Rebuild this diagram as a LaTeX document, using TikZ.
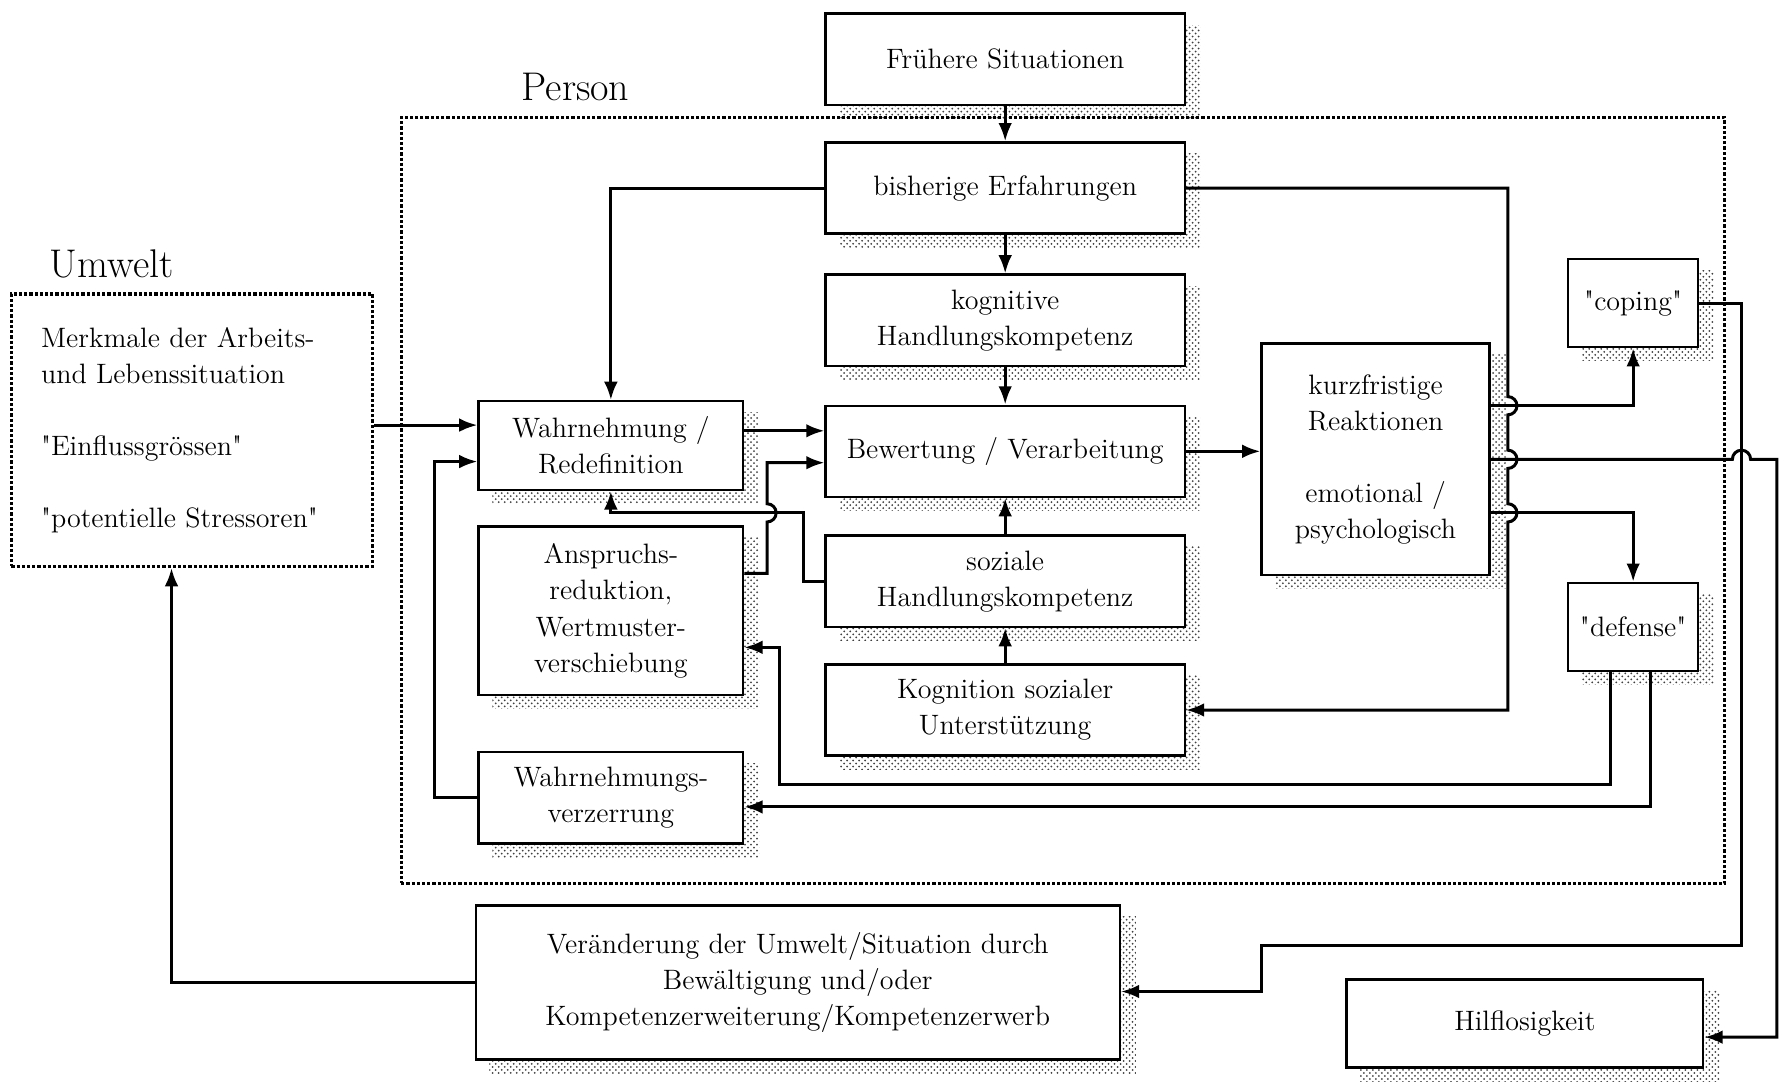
\documentclass[tikz,border=0pt]{standalone}
\usepackage{fontspec}
\usetikzlibrary{arrows.meta,patterns,backgrounds}

\tikzset{
    box/.style={draw, line width=1.2pt, fill=white, align=center, inner sep=2pt},
    midbox/.style={box, minimum width=63mm, minimum height=16mm},
    sidebox/.style={box, minimum width=46.4mm},
    smallbox/.style={box, minimum width=22.8mm, minimum height=15.4mm},
    dotframe/.style={draw, densely dotted, line width=1.6pt},
    conn/.style={line width=1.5pt, -{Latex[length=3.2mm,width=2.4mm]}},
    heading/.style={font=\fontsize{20}{24}\selectfont},
}

\begin{document}
\begin{tikzpicture}[x=0.2mm, y=-0.2mm, font=\fontsize{14}{18}\selectfont]
    \useasboundingbox (0,0) rectangle (1568,952);

    % Define the positions of the boxes
    \coordinate (frueherPos) at (882,52);
    \coordinate (bisherPos) at (882,165);
    \coordinate (kognPos) at (882,281);
    \coordinate (bewertPos) at (882,396);
    \coordinate (sozialPos) at (882,510);
    \coordinate (kognsozPos) at (882,623);
    \coordinate (wahrnPos) at (536,391);
    \coordinate (ansprPos) at (536,536);
    \coordinate (verzerrPos) at (536,700);
    \coordinate (kurzPos) at (1207,403);
    \coordinate (copingPos) at (1433,266);
    \coordinate (defensePos) at (1433,550);
    \coordinate (veraendPos) at (700,862);
    \coordinate (hilfPos) at (1338,898);

    % Draw the frames and their titles
    \node[dotframe, minimum width=232.2mm, minimum height=134.4mm] (person) at (932.5,439) {};
    \node[heading] (persontitle) at (505,76) {Person};
    \node[dotframe, minimum width=63.4mm, minimum height=47.8mm, text width=53mm, align=left, inner sep=0pt] (umwelt) at (168.5,377.5)
        {Merkmale der Arbeits-\\und Lebenssituation\\[18pt]\textquotedbl Einflussgrössen\textquotedbl\\[18pt]\textquotedbl potentielle Stressoren\textquotedbl};
    \node[heading] (umwelttitle) at (98,232) {Umwelt};

    % Draw the boxes
    \node[midbox] (frueher) at (frueherPos) {Frühere Situationen};
    \node[midbox] (bisher) at (bisherPos) {bisherige Erfahrungen};
    \node[midbox] (kogn) at (kognPos) {kognitive\\Handlungskompetenz};
    \node[midbox] (bewert) at (bewertPos) {Bewertung / Verarbeitung};
    \node[midbox] (sozial) at (sozialPos) {soziale\\Handlungskompetenz};
    \node[midbox] (kognsoz) at (kognsozPos) {Kognition sozialer\\Unterstützung};
    \node[sidebox, minimum height=15.6mm] (wahrn) at (wahrnPos) {Wahrnehmung /\\Redefinition};
    \node[sidebox, minimum height=29.6mm] (anspr) at (ansprPos) {Anspruchs-\\reduktion,\\Wertmuster-\\verschiebung};
    \node[sidebox, minimum height=16mm] (verzerr) at (verzerrPos) {Wahrnehmungs-\\verzerrung};
    \node[box, minimum width=40mm, minimum height=40.6mm] (kurz) at (kurzPos) {kurzfristige\\Reaktionen\\[18pt]emotional /\\psychologisch};
    \node[smallbox] (coping) at (copingPos) {\textquotedbl coping\textquotedbl};
    \node[smallbox] (defense) at (defensePos) {\textquotedbl defense\textquotedbl};
    \node[box, minimum width=113mm, minimum height=27mm] (veraend) at (veraendPos)
        {Veränderung der Umwelt/Situation durch\\Bewältigung und/oder\\Kompetenzerweiterung/Kompetenzerwerb};
    \node[box, minimum width=62.6mm, minimum height=15.4mm] (hilf) at (hilfPos) {Hilflosigkeit};

    % Stippled shadows behind the boxes
    \begin{scope}[on background layer]
        \foreach \b in {frueher,bisher,kogn,bewert,sozial,kognsoz,wahrn,anspr,verzerr,kurz,coping,defense,veraend,hilf}
            \fill[pattern=crosshatch dots, pattern color=black!75]
                ([xshift=2.6mm,yshift=-2.2mm]\b.south west) rectangle ([xshift=2.6mm,yshift=-2.2mm]\b.north east);
    \end{scope}

    % Points where the connectors meet the boxes
    \coordinate (w1) at ([yshift=3.6mm]wahrn.west);
    \coordinate (w2) at ([yshift=-2.8mm]wahrn.west);
    \coordinate (b1) at ([yshift=3.6mm]bewert.west);
    \coordinate (b2) at ([yshift=-2mm]bewert.west);
    \coordinate (a1) at ([yshift=6.6mm]anspr.east);
    \coordinate (a2) at ([yshift=-6.4mm]anspr.east);
    \coordinate (z1) at ([yshift=-1.6mm]verzerr.east);
    \coordinate (k1) at ([yshift=9.4mm]kurz.east);
    \coordinate (k2) at (kurz.east);
    \coordinate (k3) at ([yshift=-9.4mm]kurz.east);
    \coordinate (h1) at ([yshift=-2.4mm]hilf.east);
    \coordinate (v1) at ([yshift=-1.6mm]veraend.east);

    % Draw the middle column
    \draw[conn] (frueher) -- (bisher);
    \draw[conn] (bisher) -- (kogn);
    \draw[conn] (kogn) -- (bewert);
    \draw[conn] (sozial) -- (bewert);
    \draw[conn] (kognsoz) -- (sozial);

    % Draw the left side
    \draw[conn] (bisher.west) -| (wahrn.north);
    \draw[conn] (umwelt.east |- w1) -- (w1);
    \draw[conn] (verzerr.west) -- ++(-38,0) |- (w2);
    \draw[conn] (wahrn.east |- b1) -- (b1);
    \draw[conn] (a1) -- ++(20,0) -- ++(0,-45) arc[start angle=90, end angle=-90, radius=8] |- (b2);
    \draw[conn] (sozial.west) -| ++(-18,-60) -| (wahrn.south);

    % Draw the right side
    \draw[conn] (bewert.east) -- (bewert.east -| kurz.west);
    \draw[conn] (bisher.east) -| ([xshift=3mm,yshift=1.6mm]k1)
        arc[start angle=-90, end angle=90, radius=8] -- ([xshift=3mm,yshift=1.6mm]k2)
        arc[start angle=-90, end angle=90, radius=8] -- ([xshift=3mm,yshift=1.6mm]k3)
        arc[start angle=-90, end angle=90, radius=8] |- (kognsoz.east);
    \draw[conn] (k1) -| (coping.south);
    \draw[conn] (k3) -| (defense.north);
    \draw[conn] (k2) -- ++(212,0) arc[start angle=180, end angle=360, radius=8] -- ++(23,0) |- (h1);
    \draw[conn] (coping.east) -- ++(37,0) |- ([xshift=24.6mm,yshift=8mm]v1) |- (v1);
    \draw[conn] ([xshift=-4mm]defense.south) |- ([xshift=6.2mm,yshift=-24mm]a2) |- (a2);
    \draw[conn] ([xshift=3mm]defense.south) |- (z1);
    \draw[conn] (veraend.west) -| ([xshift=-3.6mm]umwelt.south);
\end{tikzpicture}
\end{document}
